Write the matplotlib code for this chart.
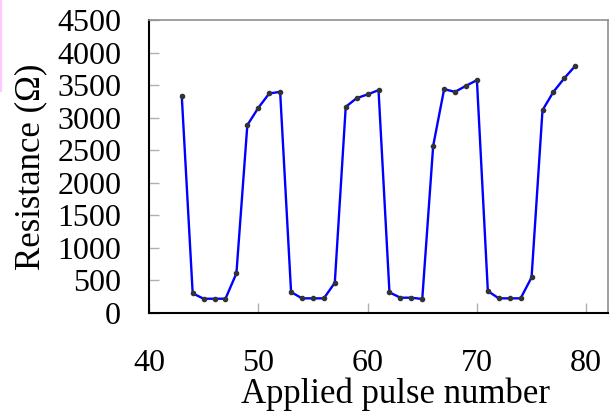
import matplotlib
matplotlib.use("Agg")
import matplotlib.pyplot as plt
from matplotlib.lines import Line2D

# Pulse number vs. resistance
pulse = [43, 44, 45, 46, 47, 48, 49, 50, 51, 52,
         53, 54, 55, 56, 57, 58, 59, 60, 61,
         62, 63, 64, 65, 66, 67, 68, 69, 70,
         71, 72, 73, 74, 75, 76, 77, 78, 79]
resistance = [3335, 295, 212, 212, 212, 603, 2885, 3150, 3372, 3397,
              315, 218, 218, 218, 458, 3166, 3300, 3357, 3423,
              310, 228, 228, 208, 2566, 3438, 3397, 3490, 3577,
              330, 218, 218, 218, 541, 3115, 3397, 3608, 3797]

x_ticks = [40, 50, 60, 70, 80]
y_ticks = [0, 500, 1000, 1500, 2000, 2500, 3000, 3500, 4000, 4500]

plt.rcParams['font.family'] = ['Liberation Serif', 'DejaVu Serif']

fig = plt.figure(figsize=(6.13, 4.12), dpi=100)
ax = fig.add_axes([0.243, 0.2415, 0.749, 0.7095])

ax.plot(pulse, resistance, color='#0000ff', linewidth=1.7,
        marker='o', markersize=3.0, markerfacecolor='#333333',
        markeredgecolor='#333333', zorder=3)

ax.set_xlim(40, 82)
ax.set_ylim(0, 4500)
ax.set_xticks(x_ticks)
ax.set_yticks(y_ticks)

ax.tick_params(axis='both', direction='in', length=7, width=1.0,
               color='#b0b0b0', labelsize=23)
ax.tick_params(axis='x', pad=26)
ax.tick_params(axis='y', pad=20)

for side in ['top', 'right']:
    ax.spines[side].set_color('#909090')
    ax.spines[side].set_linewidth(1.2)
for side in ['left', 'bottom']:
    ax.spines[side].set_color('black')
    ax.spines[side].set_linewidth(1.5)

ax.set_xlabel('Applied pulse number', fontsize=25, labelpad=0, x=0.536)
ax.set_ylabel('Resistance (Ω)', fontsize=25, labelpad=7)

# faint pink mark on the left edge of the original image
fig.add_artist(Line2D([0.002, 0.002], [1.0, 0.78], color='#ffc8ff',
                      linewidth=1.5, transform=fig.transFigure))

fig.savefig('out.png', dpi=100)
